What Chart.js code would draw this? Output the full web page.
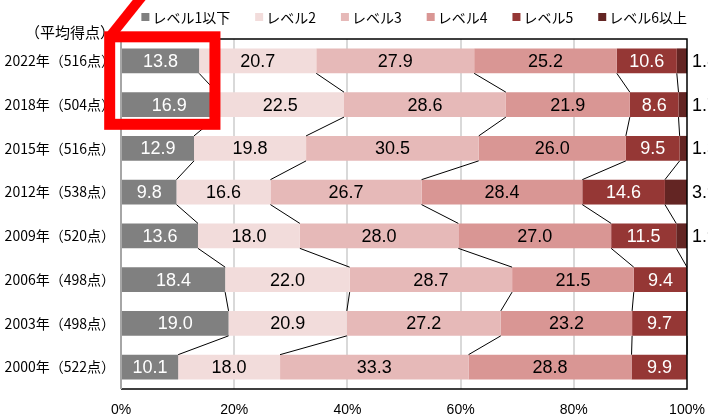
<!DOCTYPE html>
<html>
<head>
<meta charset="utf-8">
<script src="https://cdn.jsdelivr.net/npm/chart.js@4/dist/chart.umd.min.js"></script>
<style>
  html, body { margin: 0; padding: 0; background: #fff; }
  #wrap { width: 708px; height: 418px; }
</style>
</head>
<body>
<div id="wrap"><canvas id="chart-levels"></canvas></div>
<script>
const years = ["2022年（516点）", "2018年（504点）", "2015年（516点）", "2012年（538点）",
               "2009年（520点）", "2006年（498点）", "2003年（498点）", "2000年（522点）"];
const levelNames = ["レベル1以下", "レベル2", "レベル3", "レベル4", "レベル5", "レベル6以上"];
const level1 = [13.8, 16.9, 12.9, 9.8, 13.6, 18.4, 19.0, 10.1];
const level2 = [20.7, 22.5, 19.8, 16.6, 18.0, 22.0, 20.9, 18.0];
const level3 = [27.9, 28.6, 30.5, 26.7, 28.0, 28.7, 27.2, 33.3];
const level4 = [25.2, 21.9, 26.0, 28.4, 27.0, 21.5, 23.2, 28.8];
const level5 = [10.6, 8.6, 9.5, 14.6, 11.5, 9.4, 9.7, 9.9];
const level6 = [1.8, 1.7, 1.3, 3.9, 1.9, 0, 0, 0];
const xTicks = [0, 20, 40, 60, 80, 100];

const levelColors = ["#808080", "#f2dcdb", "#e6b9b8", "#d99694", "#953735", "#632523"];
const labelColors = ["#ffffff", "#000000", "#000000", "#000000", "#ffffff", "#000000"];
const jpFont = '"Noto Sans CJK JP", sans-serif';
const numFont = '"Liberation Sans", Arial, sans-serif';

const series = [level1, level2, level3, level4, level5, level6];

// legend, frame, series lines, value labels and the red marker box
const decorations = {
    id: "decorations",
    afterDatasetsDraw(chart) {
        const ctx = chart.ctx;
        const area = chart.chartArea;
        const x = chart.scales.x;
        const rows = chart.getDatasetMeta(0).data;

        // series lines between neighbouring bars
        ctx.save();
        ctx.strokeStyle = "#000";
        ctx.lineWidth = 1;
        for (let i = 0; i < rows.length - 1; i++) {
            let sumA = 0, sumB = 0;
            for (let k = 0; k < series.length - 1; k++) {
                sumA += series[k][i];
                sumB += series[k][i + 1];
                const a = rows[i], b = rows[i + 1];
                ctx.beginPath();
                ctx.moveTo(x.getPixelForValue(Math.min(sumA, 100)), a.y + a.height / 2);
                ctx.lineTo(x.getPixelForValue(Math.min(sumB, 100)), b.y - b.height / 2);
                ctx.stroke();
            }
        }
        ctx.restore();

        // frame
        ctx.save();
        ctx.strokeStyle = "#000";
        ctx.lineWidth = 1.5;
        ctx.beginPath();
        ctx.moveTo(area.left, area.top);
        ctx.lineTo(area.right, area.top);
        ctx.lineTo(area.right, area.bottom);
        ctx.lineTo(area.left, area.bottom);
        ctx.stroke();
        ctx.strokeStyle = "#a6a6a6";
        ctx.lineWidth = 2;
        ctx.beginPath();
        ctx.moveTo(area.left, area.top);
        ctx.lineTo(area.left, area.bottom);
        ctx.stroke();
        ctx.restore();

        // value labels
        ctx.save();
        ctx.font = "18px " + numFont;
        ctx.textBaseline = "middle";
        chart.data.datasets.forEach((ds, d) => {
            const meta = chart.getDatasetMeta(d);
            meta.data.forEach((bar, i) => {
                const v = ds.data[i];
                if (!v) return;
                if (d === series.length - 1) {
                    ctx.fillStyle = "#000";
                    ctx.textAlign = "left";
                    ctx.fillText(v.toFixed(1), area.right + 5, bar.y + 1);
                } else {
                    ctx.fillStyle = labelColors[d];
                    ctx.textAlign = "center";
                    ctx.fillText(v.toFixed(1), (bar.base + bar.x) / 2, bar.y + 1);
                }
            });
        });
        ctx.restore();

        // legend
        ctx.save();
        ctx.font = "14px " + jpFont;
        ctx.textBaseline = "middle";
        const gap = 25, box = 8, textGap = 3;
        const widths = levelNames.map(n => box + textGap + ctx.measureText(n).width);
        const total = widths.reduce((s, w) => s + w, 0) + gap * (widths.length - 1);
        let lx = area.right - total;
        const ly = 17;
        levelNames.forEach((name, d) => {
            ctx.fillStyle = levelColors[d];
            ctx.fillRect(lx, ly - box / 2, box, box);
            ctx.fillStyle = "#000";
            ctx.textAlign = "left";
            ctx.fillText(name, lx + box + textGap, ly + 1);
            lx += widths[d] + gap;
        });

        // axis caption
        ctx.font = "15px " + jpFont;
        ctx.textAlign = "right";
        ctx.fillText("（平均得点）", area.left - 6, area.top - 7);
        ctx.restore();
    },
    afterDraw(chart) {
        const ctx = chart.ctx;
        const x = chart.scales.x;
        const y = chart.scales.y;
        const left = x.getPixelForValue(-2);
        const right = x.getPixelForValue(16.6);
        const top = y.getPixelForValue(-0.55);
        const bottom = y.getPixelForValue(1.45);

        ctx.save();
        ctx.strokeStyle = "#ff0000";
        ctx.lineWidth = 11;
        ctx.strokeRect(left, top, right - left, bottom - top);
        ctx.lineWidth = 10;
        ctx.beginPath();
        ctx.moveTo(left, top);
        ctx.lineTo(left + (top + 6) * 0.8, -6);
        ctx.stroke();
        ctx.restore();
    }
};

new Chart(document.getElementById("chart-levels"), {
    type: "bar",
    data: {
        labels: years,
        datasets: series.map((vals, d) => ({
            label: levelNames[d],
            data: vals,
            backgroundColor: levelColors[d],
            borderWidth: 0,
            categoryPercentage: 1,
            barPercentage: 0.57
        }))
    },
    options: {
        indexAxis: "y",
        responsive: true,
        maintainAspectRatio: false,
        animation: false,
        layout: { padding: { top: 39, right: 21, left: 0, bottom: 0 } },
        plugins: {
            legend: { display: false },
            tooltip: { enabled: false }
        },
        scales: {
            x: {
                stacked: true,
                min: 0,
                max: 100,
                afterBuildTicks: scale => { scale.ticks = xTicks.map(v => ({ value: v })); },
                afterFit: scale => {
                    scale.height = 29;
                    scale.paddingLeft = 0;
                    scale.paddingRight = 0;
                },
                ticks: {
                    padding: 13,
                    color: "#000",
                    font: { family: numFont, size: 14 },
                    callback: v => v + "%"
                },
                grid: {
                    drawTicks: false,
                    lineWidth: 2,
                    color: c => (c.tick && c.tick.value > 0 && c.tick.value < 100) ? "#d9d9d9" : "rgba(0,0,0,0)"
                },
                border: { display: false }
            },
            y: {
                stacked: true,
                afterFit: scale => {
                    scale.width = 121;
                    scale.paddingTop = 0;
                    scale.paddingBottom = 0;
                },
                ticks: {
                    padding: 6,
                    color: "#000",
                    font: { family: jpFont, size: 14 }
                },
                grid: { display: false, drawTicks: false },
                border: { display: false }
            }
        }
    },
    plugins: [decorations]
});
</script>
</body>
</html>
